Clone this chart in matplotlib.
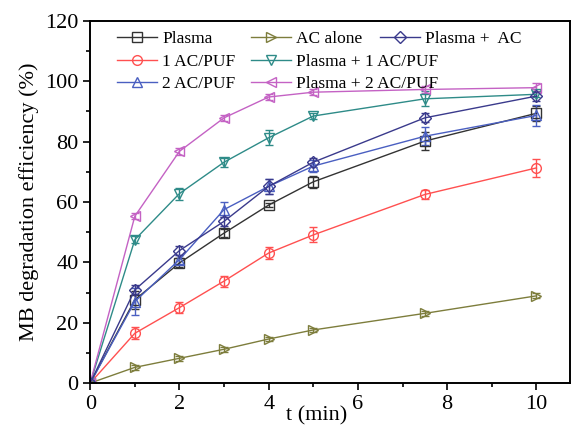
import numpy as np
import matplotlib.pyplot as plt
from matplotlib.lines import Line2D

# === DATA ===
t = [0, 1, 2, 3, 4, 5, 7.5, 10]

plasma = [0, 27.6, 39.8, 49.7, 59.0, 66.7, 80.2, 89.4]
plasma_err = [0, 3.0, 1.5, 1.2, 0.8, 2.0, 3.0, 2.5]

ac_alone = [0, 5.2, 8.2, 11.2, 14.6, 17.6, 23.1, 28.9]
ac_alone_err = [0, 0.8, 0.8, 0.8, 0.8, 0.8, 0.8, 0.8]

plasma_ac = [0, 30.9, 43.9, 53.6, 65.2, 73.2, 87.9, 95.1]
plasma_ac_err = [0, 1.5, 1.5, 1.5, 2.5, 1.5, 1.5, 1.5]

ac_puf1 = [0, 16.5, 25.0, 33.8, 43.1, 49.1, 62.5, 71.3]
ac_puf1_err = [0, 2.0, 1.8, 1.8, 2.0, 2.5, 1.5, 3.0]

plasma_puf1 = [0, 47.5, 62.8, 73.2, 81.3, 88.5, 94.2, 95.7]
plasma_puf1_err = [0, 1.2, 2.0, 1.5, 2.5, 1.0, 2.5, 1.0]

ac_puf2 = [0, 27.0, 40.9, 57.5, 65.2, 71.9, 81.8, 88.7]
ac_puf2_err = [0, 4.5, 1.5, 2.5, 2.5, 2.0, 3.0, 3.5]

plasma_puf2 = [0, 55.3, 76.8, 87.9, 94.8, 96.4, 97.3, 97.9]
plasma_puf2_err = [0, 1.0, 1.2, 1.0, 1.0, 1.0, 1.2, 1.5]

# === MATPLOTLIB CONFIG ===
plt.rcParams.update({
    "font.family": "Liberation Serif",
    "font.size": 16,
    "axes.labelsize": 16,
    "xtick.labelsize": 16,
    "ytick.labelsize": 16,
    "legend.fontsize": 12.5,
})

fig, ax = plt.subplots(figsize=(5.71, 4.28), dpi=100)
fig.subplots_adjust(left=0.158, right=0.998, bottom=0.105, top=0.951)

series = [
    ("Plasma", plasma, plasma_err, "#333333", "s"),
    ("1 AC/PUF", ac_puf1, ac_puf1_err, "#ff5050", "o"),
    ("2 AC/PUF", ac_puf2, ac_puf2_err, "#4a5fc1", "^"),
    ("AC alone", ac_alone, ac_alone_err, "#7d7d3c", ">"),
    ("Plasma + 1 AC/PUF", plasma_puf1, plasma_puf1_err, "#2e8b88", "v"),
    ("Plasma + 2 AC/PUF", plasma_puf2, plasma_puf2_err, "#c462c4", "<"),
    ("Plasma +  AC", plasma_ac, plasma_ac_err, "#3a3a8c", "D"),
]

handles = []
for label, y, err, color, marker in series:
    ms = 6 if marker == "D" else 7
    ax.errorbar(t, y, yerr=err, color=color, marker=marker, markersize=ms,
                markerfacecolor="none", markeredgecolor=color, markeredgewidth=1.0,
                linewidth=1.0, elinewidth=1.0, capsize=3, capthick=1.0)
    handles.append(Line2D([], [], color=color, marker=marker, markersize=ms,
                          markerfacecolor="none", markeredgewidth=1.0,
                          linewidth=1.0, label=label))

ax.set_xlim(0, 10.75)
ax.set_ylim(0, 120)
ax.set_xticks([0, 2, 4, 6, 8, 10])
ax.set_xticks(np.arange(0, 11, 1), minor=True)
ax.set_yticks(np.arange(0, 121, 20))
ax.set_yticks(np.arange(0, 121, 10), minor=True)
ax.tick_params(which="both", direction="out", top=False, right=False)
ax.tick_params(which="major", length=5, width=1.2)
ax.tick_params(which="minor", length=3, width=1.2)
for s in ax.spines.values():
    s.set_linewidth(1.4)

ax.set_ylabel("MB degradation efficiency (%)", labelpad=4)
ax.set_xlabel("t (min)")
ax.xaxis.set_label_coords(0.473, -0.065)

# legend: two columns of three, plus a single entry in a third column
leg1 = ax.legend(handles=handles[:6], loc="upper left", bbox_to_anchor=(0.056, 0.973),
                 ncol=2, frameon=False, handlelength=2.3, handletextpad=0.3,
                 columnspacing=0.9, labelspacing=0.38, borderpad=0, borderaxespad=0)
ax.add_artist(leg1)
ax.legend(handles=handles[6:], loc="upper left", bbox_to_anchor=(0.604, 0.973),
          frameon=False, handlelength=2.3, handletextpad=0.3,
          borderpad=0, borderaxespad=0)

fig.savefig("out.png", dpi=100)
